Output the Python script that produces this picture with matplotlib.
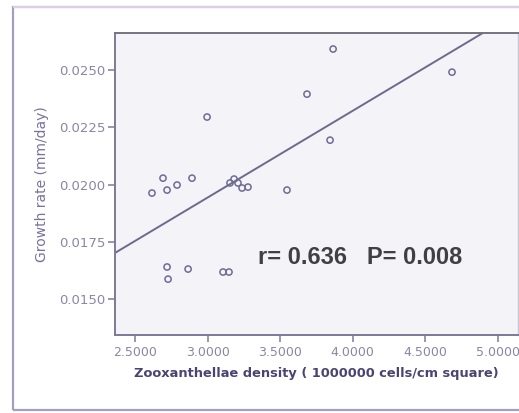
import numpy as np
import matplotlib.pyplot as plt
from matplotlib.patches import Rectangle

# Zooxanthellae density (1e6 cells/cm2) vs growth rate (mm/day)
density = [2.997, 2.617, 2.693, 2.721, 2.790, 2.893, 3.155, 3.183, 3.210, 3.238, 3.279,
           2.721, 2.728, 2.866, 3.107, 3.148, 3.866, 3.686, 4.686, 3.845, 3.548]
growth = [0.02295, 0.01963, 0.02028, 0.01976, 0.01998, 0.02028, 0.02007, 0.02024, 0.02007,
          0.01985, 0.01989, 0.01640, 0.01587, 0.01631, 0.01618, 0.01618, 0.02592, 0.02395,
          0.02491, 0.02194, 0.01976]

# fit line as drawn in the figure
fit_slope = 0.003787
fit_intercept = 0.00807

xticks = [2.5, 3.0, 3.5, 4.0, 4.5, 5.0]
yticks = [0.0150, 0.0175, 0.0200, 0.0225, 0.0250]

fig = plt.figure(figsize=(5.19, 4.13), dpi=100)
fig.patch.set_facecolor('white')

# outer frame around the chart
fig.patches.append(Rectangle((13 / 519, 3 / 413), 1.0, 403 / 413, transform=fig.transFigure,
                             fill=False, edgecolor='#a49ec0', linewidth=1.6, zorder=0))
fig.patches.append(Rectangle((13 / 519, 405 / 413), 1.0, 2 / 413, transform=fig.transFigure,
                             facecolor='#dccfe6', edgecolor='none', zorder=0))

ax = fig.add_axes([115 / 519, 78 / 413, 403 / 519, 302 / 413])
ax.set_facecolor('#f4f3f8')

ax.scatter(density, growth, s=20, facecolors='none', edgecolors='#6f6b94', linewidths=1.1, zorder=3)

xs = np.array([2.362, 5.141])
ax.plot(xs, fit_intercept + fit_slope * xs, color='#6d6a8c', linewidth=1.4, zorder=2)

ax.set_xlim(2.362, 5.141)
ax.set_ylim(0.01343, 0.02662)
ax.set_xticks(xticks)
ax.set_xticklabels(['%.4f' % v for v in xticks])
ax.set_yticks(yticks)
ax.set_yticklabels(['%.4f' % v for v in yticks])

ax.tick_params(axis='both', length=5, width=1.1, color='#7d7999', labelcolor='#8a86a6',
               labelsize=9.5, pad=2)
ax.tick_params(axis='x', labelsize=9, pad=3)

for side in ['left', 'bottom']:
    ax.spines[side].set_color('#7d7999')
    ax.spines[side].set_linewidth(1.4)
ax.spines['top'].set_color('#75737f')
ax.spines['top'].set_linewidth(1.4)
ax.spines['right'].set_color('#c8c6d2')
ax.spines['right'].set_linewidth(1.0)

ax.set_xlabel('Zooxanthellae density ( 1000000 cells/cm square)', fontsize=9.4,
              fontweight='bold', color='#4a4472', labelpad=6)
ax.set_ylabel('Growth rate (mm/day)', fontsize=10, color='#77739a', labelpad=7)

ax.text(0.608, 0.258, 'r= 0.636   P= 0.008', transform=ax.transAxes, ha='center', va='center',
        fontsize=17, fontweight='bold', family='Liberation Sans', color='#404044')

fig.savefig('out.png', dpi=100)
